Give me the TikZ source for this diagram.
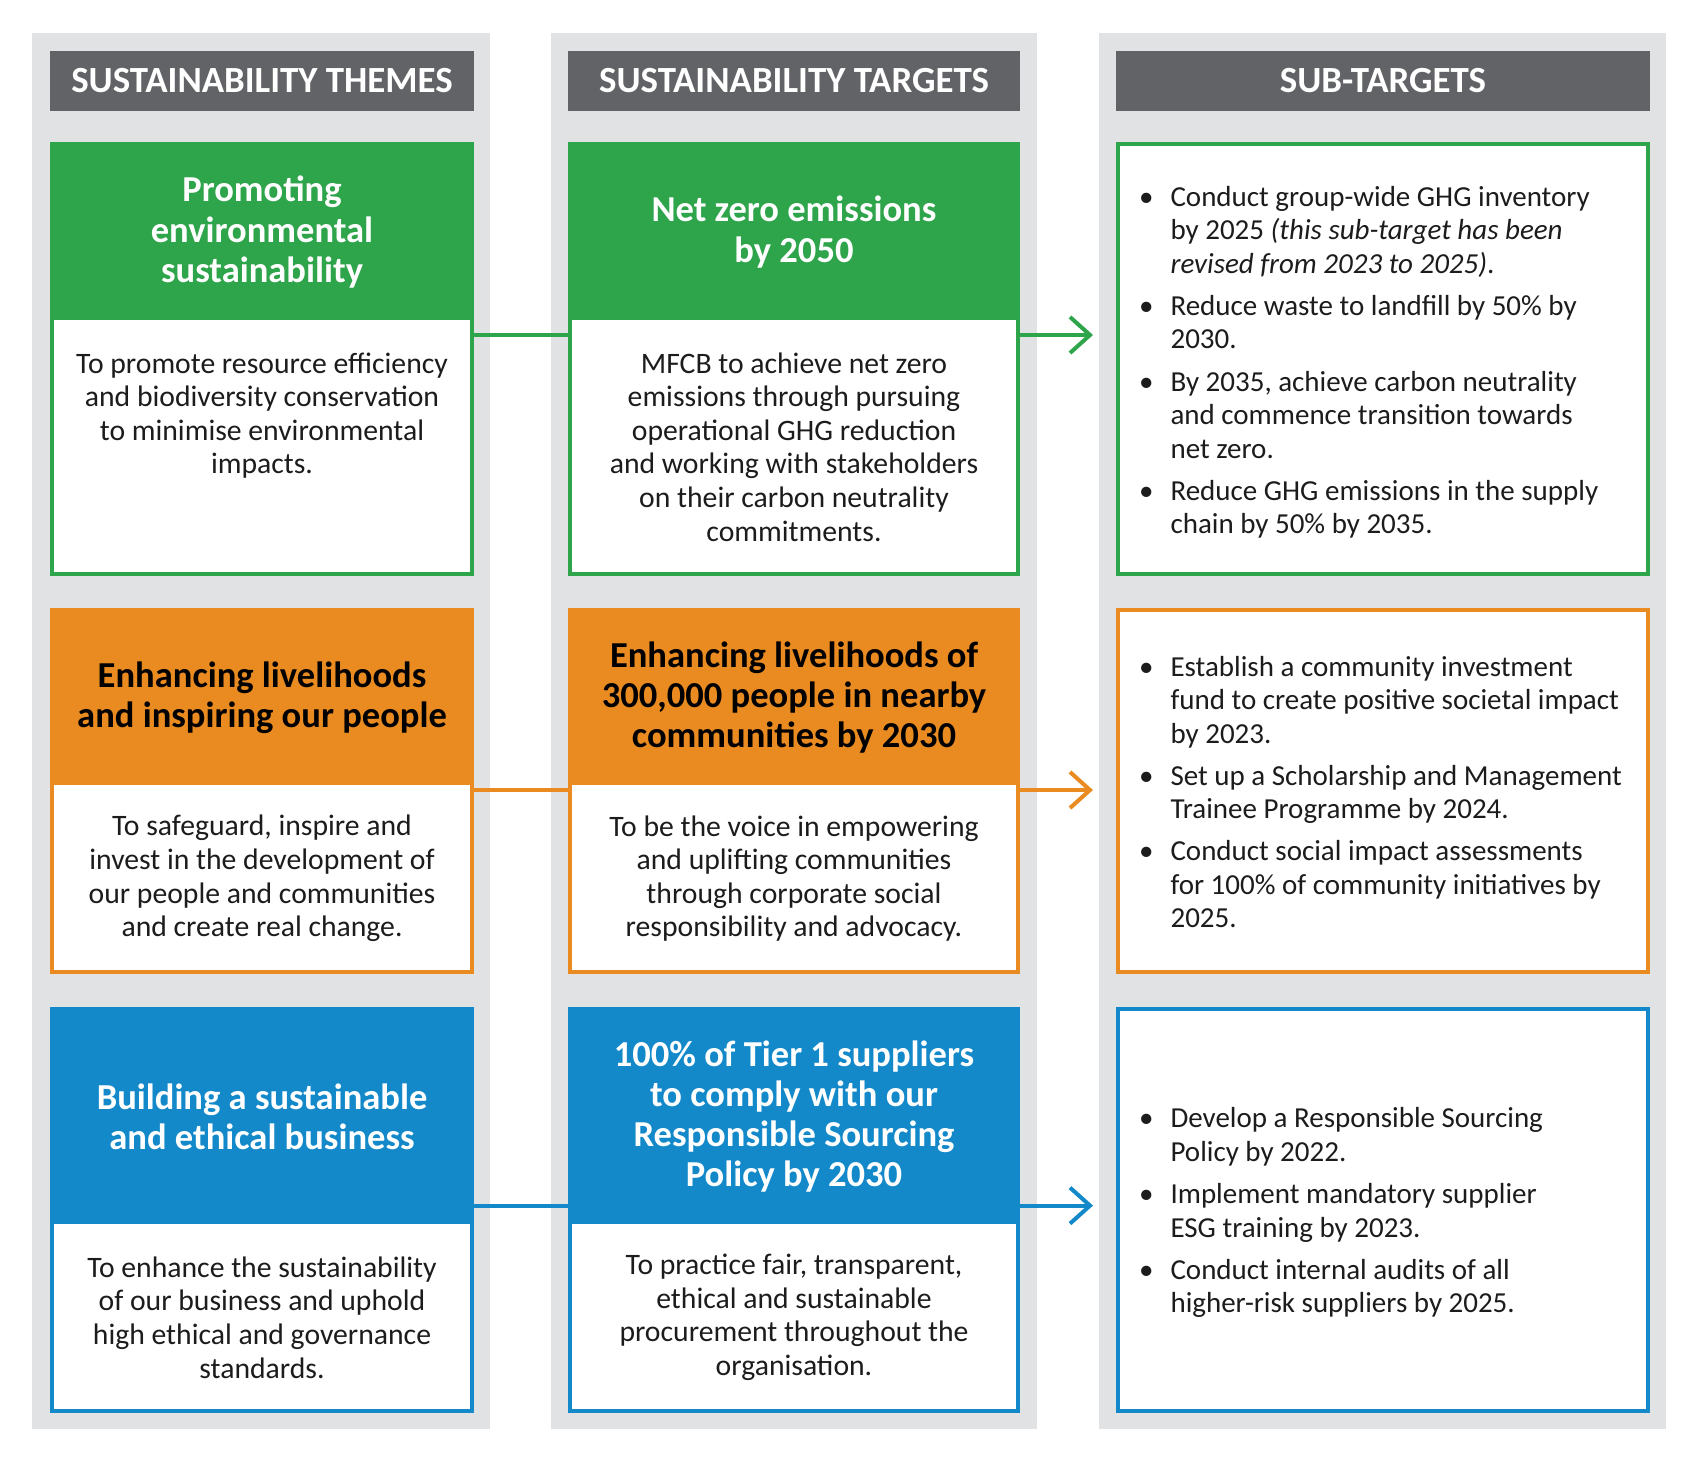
\documentclass[tikz,border=0pt]{standalone}
\usepackage{fontspec}
\setmainfont{Carlito}
\usetikzlibrary{arrows.meta,positioning,calc}

\definecolor{colbg}{HTML}{E1E2E4}
\definecolor{hdrgray}{HTML}{626366}
\definecolor{envgreen}{HTML}{2EA44B}
\definecolor{pplorange}{HTML}{E98B20}
\definecolor{bizblue}{HTML}{1389CA}
\definecolor{bodyink}{HTML}{1C1C1C}

% one bullet of a sub-target list
\newcommand{\bitem}[1]{\makebox[0.63cm][l]{\textbullet}\parbox[t]{9.6cm}{\raggedright\strut #1\strut}}

\begin{document}
\begin{tikzpicture}[
    x=0.02cm, y=-0.02cm,
    every node/.style={inner sep=0pt, outer sep=0pt},
    column/.style={fill=colbg, minimum width=#1, minimum height=27.93cm},
    colhead/.style={fill=hdrgray, text=white, font=\bfseries\fontsize{21}{24}\selectfont, minimum width=#1, minimum height=1.19cm},
    card/.style={draw=#1, fill=white, line width=0.08cm},
    cardtop/.style={fill=#1, anchor=north, align=center, font=\bfseries\fontsize{20.8}{22.8}\selectfont},
    cardtxt/.style={align=center, text=bodyink, font=\fontsize{16.9}{19.1}\selectfont},
    sublist/.style={anchor=west, align=left, text=bodyink, font=\fontsize{16.5}{19.1}\selectfont},
    link/.style={draw=#1, line width=0.08cm},
    toward/.style={-{Straight Barb[length=0.4cm, width=0.72cm]}},
]
\path[use as bounding box, fill=white] (0,0) rectangle (1700,1461);

% grey columns and headings
\node[column=9.15cm] (col1) at (261,731) {};
\node[column=9.73cm] (col2) at (794,731) {};
\node[column=11.34cm] (col3) at (1382.5,731) {};
\node[colhead=8.48cm] (hd1) at (262,81) {SUSTAINABILITY THEMES};
\node[colhead=9.04cm] (hd2) at (794,81) {SUSTAINABILITY TARGETS};
\node[colhead=10.7cm] (hd3) at (1383,81) {SUB-TARGETS};

% row 1: environment
\node[card=envgreen, minimum width=8.4cm, minimum height=8.6cm] (th1) at (262,359) {};
\node[cardtop=envgreen, text=white, minimum width=8.4cm, minimum height=3.52cm] (th1top) at (th1.north) {Promoting\\environmental\\sustainability};
\node[card=envgreen, minimum width=8.96cm, minimum height=8.6cm] (tg1) at (794,359) {};
\node[cardtop=envgreen, text=white, minimum width=8.96cm, minimum height=3.52cm] (tg1top) at (tg1.north) {Net zero emissions\\by 2050};
\node[cardtxt] (tg1txt) at ($(tg1top.south)!.5!(tg1.south)$) {MFCB to achieve net zero\\emissions through pursuing\\operational GHG reduction\\and working with stakeholders\\on their carbon neutrality\\commitments.};
\node[cardtxt, anchor=north] (th1txt) at (th1.center |- tg1txt.north) {To promote resource efficiency\\and biodiversity conservation\\to minimise environmental\\impacts.};
\node[card=envgreen, minimum width=10.62cm, minimum height=8.6cm] (sb1) at (1383,359) {};
\node[sublist] (sb1txt) at ([xshift=0.43cm, yshift=-0.085cm]sb1.west) {
  \bitem{Conduct group-wide GHG inventory\\by 2025 \textit{(this sub-target has been}\\\textit{revised from 2023 to 2025)}.}\\[0.135cm]
  \bitem{Reduce waste to landfill by 50\% by\\2030.}\\[0.135cm]
  \bitem{By 2035, achieve carbon neutrality\\and commence transition towards\\net zero.}\\[0.135cm]
  \bitem{Reduce GHG emissions in the supply\\chain by 50\% by 2035.}};
\coordinate (end1) at (1093,335);
\draw[link=envgreen] (th1.east |- end1) -- (tg1.west |- end1);
\draw[link=envgreen, toward] (tg1.east |- end1) -- (end1);

% row 2: people
\node[card=pplorange, minimum width=8.4cm, minimum height=7.24cm] (th2) at (262,791) {};
\node[cardtop=pplorange, text=black, minimum width=8.4cm, minimum height=3.5cm] (th2top) at (th2.north) {Enhancing livelihoods\\and inspiring our people};
\node[cardtxt] (th2txt) at ($(th2top.south)!.5!(th2.south)$) {To safeguard, inspire and\\invest in the development of\\our people and communities\\and create real change.};
\node[card=pplorange, minimum width=8.96cm, minimum height=7.24cm] (tg2) at (794,791) {};
\node[cardtop=pplorange, text=black, minimum width=8.96cm, minimum height=3.5cm] (tg2top) at (tg2.north) {Enhancing livelihoods of\\300,000 people in nearby\\communities by 2030};
\node[cardtxt] (tg2txt) at ($(tg2top.south)!.5!(tg2.south)$) {To be the voice in empowering\\and uplifting communities\\through corporate social\\responsibility and advocacy.};
\node[card=pplorange, minimum width=10.62cm, minimum height=7.24cm] (sb2) at (1383,791) {};
\node[sublist] (sb2txt) at ([xshift=0.43cm, yshift=-0.085cm]sb2.west) {
  \bitem{Establish a community investment\\fund to create positive societal impact\\by 2023.}\\[0.135cm]
  \bitem{Set up a Scholarship and Management\\Trainee Programme by 2024.}\\[0.135cm]
  \bitem{Conduct social impact assessments\\for 100\% of community initiatives by\\2025.}};
\coordinate (end2) at (1093,790);
\draw[link=pplorange] (th2.east |- end2) -- (tg2.west |- end2);
\draw[link=pplorange, toward] (tg2.east |- end2) -- (end2);

% row 3: business
\node[card=bizblue, minimum width=8.4cm, minimum height=8.04cm] (th3) at (262,1210) {};
\node[cardtop=bizblue, text=white, minimum width=8.4cm, minimum height=4.3cm] (th3top) at (th3.north) {Building a sustainable\\and ethical business};
\node[cardtxt] (th3txt) at ($(th3top.south)!.5!(th3.south)$) {To enhance the sustainability\\of our business and uphold\\high ethical and governance\\standards.};
\node[card=bizblue, minimum width=8.96cm, minimum height=8.04cm] (tg3) at (794,1210) {};
\node[cardtop=bizblue, text=white, minimum width=8.96cm, minimum height=4.3cm] (tg3top) at (tg3.north) {100\% of Tier 1 suppliers\\to comply with our\\Responsible Sourcing\\Policy by 2030};
\node[cardtxt] (tg3txt) at ($(tg3top.south)!.5!(tg3.south)$) {To practice fair, transparent,\\ethical and sustainable\\procurement throughout the\\organisation.};
\node[card=bizblue, minimum width=10.62cm, minimum height=8.04cm] (sb3) at (1383,1210) {};
\node[sublist] (sb3txt) at ([xshift=0.43cm, yshift=-0.07cm]sb3.west) {
  \bitem{Develop a Responsible Sourcing\\Policy by 2022.}\\[0.135cm]
  \bitem{Implement mandatory supplier\\ESG training by 2023.}\\[0.135cm]
  \bitem{Conduct internal audits of all\\higher-risk suppliers by 2025.}};
\coordinate (end3) at (1093,1205.6);
\draw[link=bizblue] (th3.east |- end3) -- (tg3.west |- end3);
\draw[link=bizblue, toward] (tg3.east |- end3) -- (end3);
\end{tikzpicture}
\end{document}
